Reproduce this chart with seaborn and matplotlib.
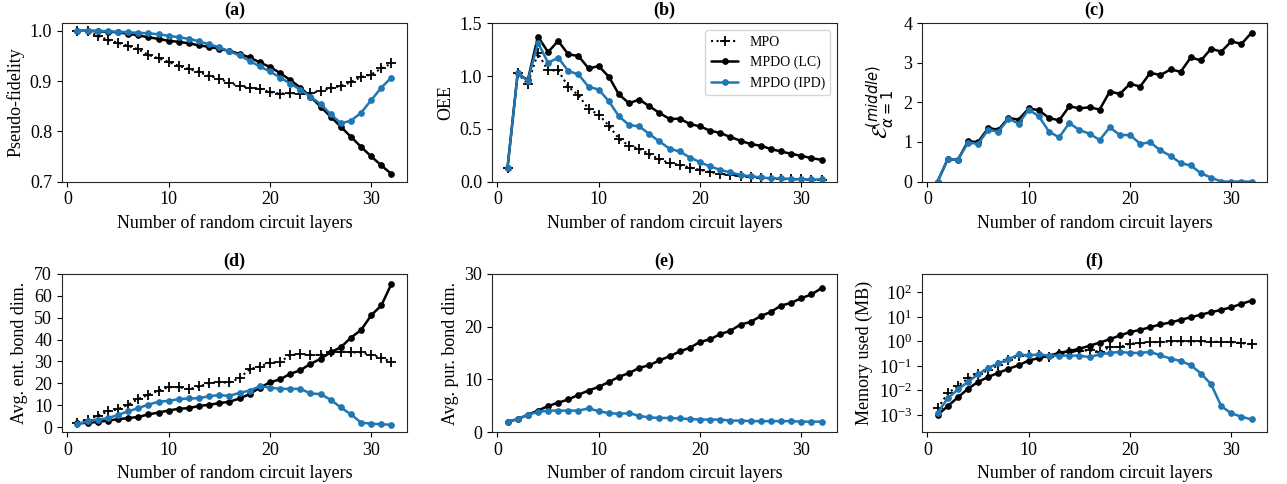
import numpy as np
import pandas as pd
import matplotlib
matplotlib.use("Agg")
import matplotlib.pyplot as plt
import seaborn as sns

layers = list(range(1, 33))

# (a) pseudo-fidelity
a_mpo = [1.000, 1.000, 0.990, 0.982, 0.976, 0.970, 0.963, 0.952, 0.945, 0.938, 0.930, 0.924, 0.918, 0.910, 0.905, 0.896,
         0.890, 0.887, 0.885, 0.878, 0.875, 0.876, 0.875, 0.876, 0.880, 0.886, 0.890, 0.898, 0.908, 0.913, 0.925, 0.935]
a_lc = [1.000, 1.000, 0.999, 0.998, 0.997, 0.994, 0.991, 0.987, 0.984, 0.980, 0.978, 0.975, 0.971, 0.968, 0.964, 0.960,
        0.954, 0.947, 0.937, 0.928, 0.916, 0.902, 0.887, 0.869, 0.849, 0.829, 0.809, 0.789, 0.769, 0.750, 0.732, 0.715]
a_ipd = [1.000, 1.000, 1.000, 0.999, 0.998, 0.997, 0.996, 0.995, 0.993, 0.990, 0.987, 0.984, 0.979, 0.973, 0.967, 0.959,
         0.951, 0.940, 0.929, 0.919, 0.907, 0.895, 0.883, 0.869, 0.854, 0.834, 0.816, 0.821, 0.837, 0.862, 0.887, 0.907]

# (b) OEE
b_mpo = [0.133, 1.024, 0.926, 1.215, 1.053, 1.053, 0.898, 0.818, 0.688, 0.634, 0.530, 0.406, 0.339, 0.311, 0.260, 0.212,
         0.174, 0.158, 0.133, 0.111, 0.090, 0.075, 0.060, 0.050, 0.042, 0.035, 0.030, 0.025, 0.020, 0.020, 0.015, 0.015]
b_lc = [0.133, 1.024, 0.961, 1.373, 1.227, 1.332, 1.205, 1.190, 1.072, 1.094, 0.993, 0.825, 0.742, 0.777, 0.714, 0.650,
        0.593, 0.596, 0.545, 0.523, 0.482, 0.460, 0.422, 0.387, 0.355, 0.340, 0.308, 0.285, 0.263, 0.244, 0.222, 0.206]
b_ipd = [0.133, 1.024, 0.955, 1.316, 1.126, 1.173, 1.047, 1.015, 0.898, 0.872, 0.761, 0.618, 0.536, 0.523, 0.450, 0.380,
         0.311, 0.285, 0.228, 0.184, 0.143, 0.111, 0.086, 0.063, 0.050, 0.040, 0.030, 0.030, 0.025, 0.020, 0.020, 0.020]

# (c) middle entanglement
c_lc = [0.0, 0.567, 0.55, 1.015, 1.0, 1.353, 1.31, 1.607, 1.565, 1.85, 1.80, 1.607, 1.547, 1.90, 1.85, 1.877,
        1.82, 2.275, 2.215, 2.47, 2.40, 2.748, 2.69, 2.833, 2.774, 3.137, 3.06, 3.357, 3.28, 3.543, 3.476, 3.763]
c_ipd = [0.0, 0.567, 0.55, 0.98, 0.955, 1.31, 1.26, 1.59, 1.463, 1.818, 1.65, 1.26, 1.116, 1.48, 1.30, 1.21,
         1.05, 1.37, 1.175, 1.175, 0.955, 0.99, 0.787, 0.65, 0.465, 0.406, 0.21, 0.10, 0.0, 0.0, 0.0, 0.0]

# (d) avg entanglement bond dim
d_mpo = [2.1, 3.3, 5.2, 7.2, 8.2, 10.2, 12.9, 14.8, 16.7, 18.3, 18.3, 17.3, 18.6, 20.1, 20.4, 20.4,
         22.4, 26.5, 27.7, 29.5, 29.7, 33.0, 33.3, 33.0, 33.0, 34.1, 34.5, 34.2, 34.1, 33.0, 31.8, 29.7]
d_lc = [1.7, 2.0, 2.4, 3.0, 3.65, 4.1, 4.7, 5.8, 6.7, 7.6, 8.4, 8.7, 9.7, 10.2, 11.0, 11.6,
        13.1, 15.1, 18.1, 20.4, 21.9, 24.3, 26.0, 28.9, 31.2, 34.2, 36.5, 40.9, 44.4, 51.1, 55.6, 65.5]
d_ipd = [1.5, 2.6, 3.5, 4.1, 5.6, 7.2, 8.7, 10.3, 11.6, 12.0, 12.8, 13.1, 13.2, 14.2, 14.6, 14.3,
         15.7, 16.7, 18.7, 18.1, 17.5, 17.5, 17.5, 15.4, 15.1, 12.5, 9.0, 5.8, 2.1, 1.6, 1.3, 1.1]

# (e) avg purification bond dim
e_lc = [1.97, 2.47, 3.3, 4.1, 4.95, 5.6, 6.2, 7.1, 7.9, 8.6, 9.5, 10.5, 11.2, 12.2, 12.7, 13.6,
        14.4, 15.3, 16.0, 17.1, 17.6, 18.6, 19.2, 20.4, 20.9, 22.0, 22.8, 24.0, 24.5, 25.4, 26.1, 27.3]
e_ipd = [2.0, 2.5, 3.3, 3.8, 4.1, 4.1, 4.1, 4.1, 4.5, 4.0, 3.6, 3.5, 3.6, 3.1, 2.8, 2.7,
         2.7, 2.6, 2.5, 2.4, 2.4, 2.4, 2.2, 2.2, 2.1, 2.1, 2.1, 2.1, 2.1, 2.0, 2.0, 2.0]

# (f) memory used (MB)
f_mpo = [1.86e-3, 7.6e-3, 1.51e-2, 3.1e-2, 4.57e-2, 6.6e-2, 0.107, 0.182, 0.245, 0.269, 0.269, 0.229, 0.316, 0.372, 0.407, 0.437,
         0.372, 0.589, 0.589, 0.813, 0.851, 0.933, 0.933, 1.0, 1.0, 1.0, 1.0, 0.977, 0.955, 0.933, 0.851, 0.759]
f_lc = [1.0e-3, 2.3e-3, 5.2e-3, 1.17e-2, 2.24e-2, 3.55e-2, 5.25e-2, 7.6e-2, 0.107, 0.166, 0.209, 0.263, 0.339, 0.407, 0.501, 0.661,
        0.891, 1.23, 1.74, 2.40, 2.95, 3.80, 4.90, 5.89, 7.59, 9.55, 12.3, 15.5, 19.1, 24.5, 33.9, 45.7]
f_ipd = [1.23e-3, 4.8e-3, 1.1e-2, 2.24e-2, 4.57e-2, 8.3e-2, 0.126, 0.186, 0.295, 0.269, 0.295, 0.263, 0.263, 0.263, 0.263, 0.229,
         0.295, 0.339, 0.372, 0.339, 0.339, 0.372, 0.269, 0.200, 0.158, 0.107, 0.049, 0.018, 2.3e-3, 1.17e-3, 8.5e-4, 6.6e-4]

titles = ["(a)", "(b)", "(c)", "(d)", "(e)", "(f)"]
ylabels = ["Pseudo-fidelity", "OEE", r"$\mathcal{E}^{(middle)}_{\alpha=1}$",
           "Avg. ent. bond dim.", "Avg. pur. bond dim.", "Memory used (MB)"]
xlabel = "Number of random circuit layers"
legend_labels = ["MPO", "MPDO (LC)", "MPDO (IPD)"]

sns.set_style("ticks")
plt.rcParams["font.family"] = ["Liberation Serif", "DejaVu Serif"]
plt.rcParams["font.size"] = 13
plt.rcParams["text.color"] = "black"
plt.rcParams["axes.labelcolor"] = "black"
plt.rcParams["xtick.color"] = "black"
plt.rcParams["ytick.color"] = "black"
plt.rcParams["mathtext.fontset"] = "dejavusans"

BLUE = "#1f77b4"
styles = {
    "mpo": dict(color="black", linestyle=":", marker="+", markersize=7, markeredgecolor="black", markeredgewidth=1.3, linewidth=1.5),
    "lc": dict(color="black", linestyle="-", marker="o", markersize=4, markeredgecolor="black", markeredgewidth=0.8, linewidth=1.8),
    "ipd": dict(color=BLUE, linestyle="-", marker="o", markersize=4, markeredgecolor=BLUE, markeredgewidth=0.8, linewidth=1.8),
}

panels = [
    [("mpo", a_mpo), ("lc", a_lc), ("ipd", a_ipd)],
    [("mpo", b_mpo), ("lc", b_lc), ("ipd", b_ipd)],
    [("lc", c_lc), ("ipd", c_ipd)],
    [("mpo", d_mpo), ("lc", d_lc), ("ipd", d_ipd)],
    [("lc", e_lc), ("ipd", e_ipd)],
    [("mpo", f_mpo), ("lc", f_lc), ("ipd", f_ipd)],
]
name_map = {"mpo": legend_labels[0], "lc": legend_labels[1], "ipd": legend_labels[2]}

fig, axes = plt.subplots(2, 3, figsize=(12.87, 4.84), dpi=100)
plt.subplots_adjust(left=0.048, right=0.9847, top=0.952, bottom=0.107, wspace=0.245, hspace=0.583)

for i, ax in enumerate(axes.flat):
    for key, vals in panels[i]:
        df = pd.DataFrame({"layer": layers, "value": vals})
        sns.lineplot(data=df, x="layer", y="value", ax=ax, label=name_map[key], legend=False, **styles[key])
    ax.set_title(titles[i], fontweight="bold", fontsize=13)
    ax.set_xlabel(xlabel, fontsize=13)
    ax.set_ylabel(ylabels[i], fontsize=15 if i == 2 else 13)
    ax.set_xticks([0, 10, 20, 30])
    ax.tick_params(labelsize=13)

axes[0, 0].set_ylim(0.7, 1.015)
axes[0, 0].set_yticks([0.7, 0.8, 0.9, 1.0])
axes[0, 1].set_ylim(0, 1.5)
axes[0, 1].set_yticks([0, 0.5, 1.0, 1.5])
axes[0, 2].set_ylim(0, 4)
axes[0, 2].set_yticks([0, 1, 2, 3, 4])
axes[1, 0].set_ylim(-2.3, 70)
axes[1, 0].set_yticks([0, 10, 20, 30, 40, 50, 60, 70])
axes[1, 1].set_ylim(0, 30)
axes[1, 1].set_yticks([0, 10, 20, 30])
axf = axes[1, 2]
axf.set_yscale("log")
axf.set_ylim(10 ** -3.7, 10 ** 2.75)
axf.set_yticks([1e-3, 1e-2, 1e-1, 1e0, 1e1, 1e2])
axf.yaxis.set_minor_locator(matplotlib.ticker.NullLocator())

handles, labels = axes[0, 1].get_legend_handles_labels()
axes[0, 1].legend(handles, labels, loc="upper right", fontsize=10, frameon=True)

fig.savefig("out.png", dpi=100)
